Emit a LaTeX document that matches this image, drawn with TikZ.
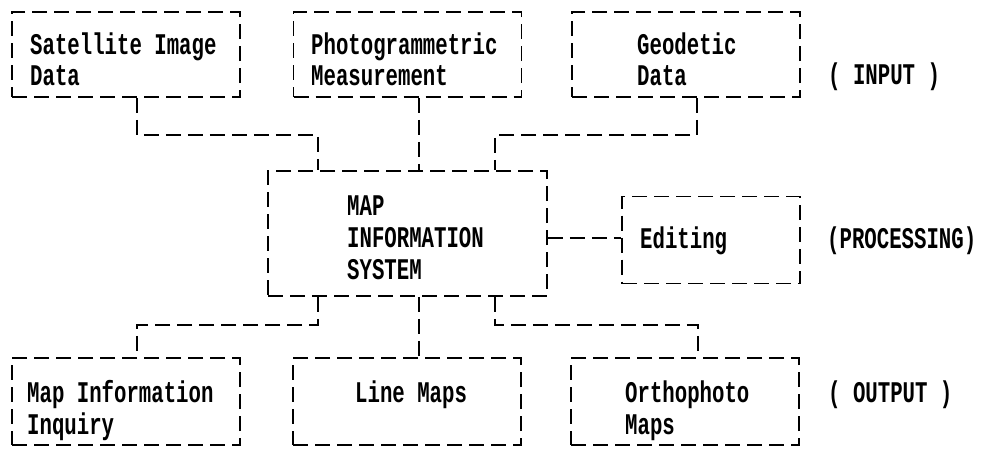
\documentclass[tikz,border=0pt]{standalone}
\usepackage{fontspec}
\newfontfamily\typew[FakeStretch=0.69]{Liberation Mono}
\begin{document}
\begin{tikzpicture}[x=1pt,y=-1pt,
  box/.style={draw=black, line width=1.8pt, dash pattern=on 15pt off 7pt, inner sep=0pt, minimum width=228pt, minimum height=85pt},
  conn/.style={draw=black, line width=1.8pt, dash pattern=on 15pt off 7pt},
  txt/.style={anchor=base west, inner sep=0pt, font=\typew\bfseries\fontsize{30}{32}\selectfont}]
\useasboundingbox (0,0) rectangle (983,458);
% boxes
\node[box] (b1) at (126,54.5) {};
\node[box] (b2) at (407.5,54.5) {};
\node[box] (b3) at (686,54.5) {};
\node[box, minimum width=279pt, minimum height=125pt] (mis) at (407.5,233.5) {};
\node[box, minimum width=178pt, minimum height=87pt] (ed) at (711,240) {};
\node[box, minimum height=87pt] (b4) at (126,401.5) {};
\node[box, minimum height=87pt] (b5) at (407,401.5) {};
\node[box, minimum height=87pt] (b6) at (685,401.5) {};
% texts
\node[txt] (t1a) at (30,54) {Satellite Image};
\node[txt] (t1b) at (30,85) {Data};
\node[txt] (t2a) at (311,54) {Photogrammetric};
\node[txt] (t2b) at (311,85) {Measurement};
\node[txt] (t3a) at (637,54) {Geodetic};
\node[txt] (t3b) at (637,85) {Data};
\node[txt] (in) at (828,84) {( INPUT )};
\node[txt] (m1) at (347,215) {MAP};
\node[txt] (m2) at (347,247) {INFORMATION};
\node[txt] (m3) at (347,279) {SYSTEM};
\node[txt] (te) at (640,248) {Editing};
\node[txt] (pr) at (827,248) {(PROCESSING)};
\node[txt] (t4a) at (27,402) {Map Information};
\node[txt] (t4b) at (27,434) {Inquiry};
\node[txt] (t5a) at (355,402) {Line Maps};
\node[txt] (t6a) at (625,402) {Orthophoto};
\node[txt] (t6b) at (625,434) {Maps};
\node[txt] (out) at (828,402) {( OUTPUT )};
% junction coordinates
\coordinate (j1) at (137,135);
\coordinate (j2) at (318,135);
\coordinate (j3) at (419,135);
\coordinate (j4) at (495,135);
\coordinate (j5) at (697,135);
\coordinate (k1) at (137,325);
\coordinate (k2) at (318,325);
\coordinate (k3) at (419,325);
\coordinate (k4) at (495,325);
\coordinate (k5) at (698,325);
\coordinate (e1) at (547,238);
% connectors
\draw[conn] (b1.south -| j1) -- (j1) -- (j2) -- (mis.north -| j2);
\draw[conn] (b2.south -| j3) -- (mis.north -| j3);
\draw[conn] (b3.south -| j5) -- (j5) -- (j4) -- (mis.north -| j4);
\draw[conn] (mis.east |- e1) -- (ed.west |- e1);
\draw[conn] (mis.south -| k2) -- (k2) -- (k1) -- (b4.north -| k1);
\draw[conn] (mis.south -| k3) -- (b5.north -| k3);
\draw[conn] (mis.south -| k4) -- (k4) -- (k5) -- (b6.north -| k5);
\end{tikzpicture}
\end{document}
